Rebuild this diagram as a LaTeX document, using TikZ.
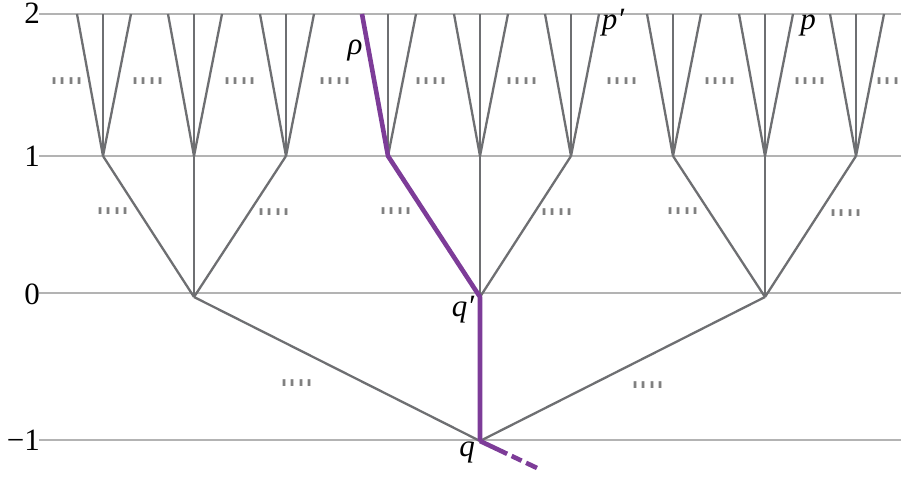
\documentclass[tikz,border=0pt]{standalone}
\usepackage{fontspec}
\setmainfont{Liberation Serif}
\newfontfamily\dotfont{Liberation Sans}
\usepackage{graphicx}
\definecolor{treegray}{HTML}{6E6F72}
\definecolor{guide}{HTML}{B3B3B3}
\definecolor{pathpurple}{HTML}{7D3C98}
\definecolor{dotgray}{HTML}{808080}
\tikzset{
  guideline/.style={draw=guide, line width=1.3pt},
  edge/.style={draw=treegray, line width=2.3pt},
  purpleedge/.style={draw=pathpurple, line width=4.6pt, line join=round},
  lvl/.style={anchor=east, inner sep=0pt, font=\fontsize{31}{31}\selectfont},
  lab/.style={anchor=base, inner sep=0pt, font=\fontsize{31}{31}\selectfont\itshape},
  dotsnode/.style={inner sep=0pt, text=dotgray, font=\dotfont\fontsize{29}{29}\selectfont}
}
\newcommand\fourdots{\scalebox{1}[2.2]{....}}
\begin{document}
\begin{tikzpicture}[x=1pt,y=-1pt]
\useasboundingbox (0,0) rectangle (901,479);
% guide lines
\foreach \n/\y in {g2/14,g1/156,g0/293,gm/440} {
  \coordinate (\n a) at (39,\y);
  \coordinate (\n b) at (901,\y);
  \draw[guideline] (\n a) -- (\n b);
}
% level labels
\node[lvl] (l2) at (40,13) {2};
\node[lvl] (l1) at (40,156) {1};
\node[lvl] (l0) at (40,294) {0};
\node[lvl] (lm) at (40,440) {−1};
% tree vertices
\coordinate (q) at (480,441);
\coordinate (a0) at (194,297);
\coordinate (b0) at (480,297);
\coordinate (c0) at (765,297);
\coordinate (tail) at (537,468);
\foreach \i/\x in {1/103,2/194,3/286,4/388,5/480,6/571,7/673,8/765,9/856} {
  \coordinate (n\i) at (\x,156);
  \coordinate (n\i l) at (\x-26,14);
  \coordinate (n\i m) at (\x,14);
  \coordinate (n\i r) at (\x+28,14);
}
% gray edges
\foreach \i in {1,...,9} {
  \draw[edge] (n\i) -- (n\i m);
  \draw[edge] (n\i) -- (n\i r);
}
\foreach \i in {1,2,3,5,6,7,8,9} {
  \draw[edge] (n\i) -- (n\i l);
}
\foreach \i in {1,2,3} { \draw[edge] (a0) -- (n\i); }
\foreach \i in {5,6} { \draw[edge] (b0) -- (n\i); }
\foreach \i in {7,8,9} { \draw[edge] (c0) -- (n\i); }
\draw[edge] (q) -- (a0);
\draw[edge] (q) -- (c0);
% purple path
\draw[purpleedge] (n4l) -- (n4) -- (b0) -- (q);
\draw[purpleedge, line cap=butt, dash pattern=on 30pt off 5pt on 11pt off 5pt on 12pt] (q) -- (tail);
% labels
\node[lab] (rho) at (355,54) {ρ};
\node[lab] (pp) at (613,29) {p′};
\node[lab] (p) at (808,29) {p};
\node[lab] (qp) at (463,316) {q′};
\node[lab] (ql) at (467,456) {q};
% dots
\foreach \k/\x/\y in {1/67/81,2/148/81,3/240/81,4/335/81,5/431/81,6/522/81,7/622/81,8/720/81,9/810/81,10/892/81,
                      11/113/211,12/274/212,13/396/211,14/557/212,15/683/211,16/846/213,
                      17/297/383,18/648/385} {
  \node[dotsnode] (dots\k) at (\x,\y) {\fourdots};
}
\end{tikzpicture}
\end{document}
